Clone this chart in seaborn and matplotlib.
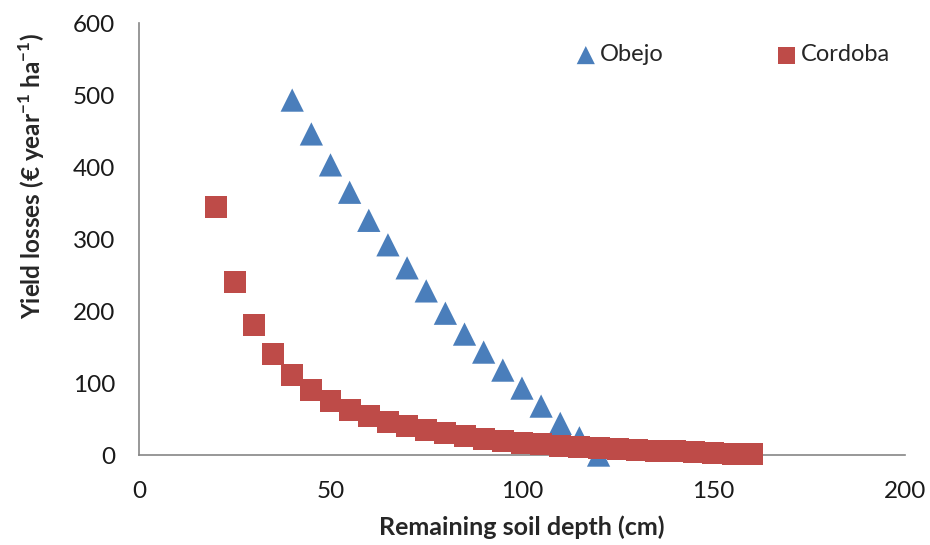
import numpy as np
import pandas as pd
import matplotlib
matplotlib.use("Agg")
import matplotlib.pyplot as plt
import seaborn as sns

# remaining soil depth (cm) and yield losses (EUR / year / ha)
obejo_depth = [40, 45, 50, 55, 60, 65, 70, 75, 80, 85, 90, 95, 100, 105, 110, 115, 120]
obejo_loss = [493, 446, 403, 365, 326, 292, 260, 228, 197, 168, 143, 118, 93, 68, 44, 24, 0]

cordoba_depth = [20, 25, 30, 35, 40, 45, 50, 55, 60, 65, 70, 75, 80, 85, 90, 95,
                 100, 105, 110, 115, 120, 125, 130, 135, 140, 145, 150, 155, 160]
cordoba_loss = [344, 241, 180, 140, 111, 91, 75, 62, 54, 46, 40, 35, 30, 26, 22, 20,
                17, 15, 13, 11, 10, 8, 7, 6, 5, 4, 3, 2, 1]

x_ticks = [0, 50, 100, 150, 200]
y_ticks = [0, 100, 200, 300, 400, 500, 600]

sns.set_style("white")
plt.rcParams['font.family'] = ['Lato', 'DejaVu Sans']
plt.rcParams['mathtext.fontset'] = 'custom'
plt.rcParams['mathtext.rm'] = 'Lato'
plt.rcParams['mathtext.bf'] = 'Lato:bold'

df_obejo = pd.DataFrame({'depth': obejo_depth, 'loss': obejo_loss})
df_cordoba = pd.DataFrame({'depth': cordoba_depth, 'loss': cordoba_loss})

fig = plt.figure(figsize=(9.3, 5.45), dpi=100)
ax = fig.add_axes([0.1495, 0.165, 0.8235, 0.7927])

blue = '#4a7ebb'
red = '#be4b48'

sns.scatterplot(data=df_obejo, x='depth', y='loss', marker='^', s=280,
                color=blue, edgecolor='none', label='Obejo', ax=ax, zorder=3,
                clip_on=False)
sns.scatterplot(data=df_cordoba, x='depth', y='loss', marker='s', s=250,
                color=red, edgecolor='none', label='Cordoba', ax=ax, zorder=4,
                clip_on=False)

ax.set_xlim(0, 200)
ax.set_ylim(0, 600)
ax.set_xticks(x_ticks)
ax.set_yticks(y_ticks)

for side in ['top', 'right']:
    ax.spines[side].set_visible(False)
for side in ['left', 'bottom']:
    ax.spines[side].set_color('#868686')
    ax.spines[side].set_linewidth(1.2)
    ax.spines[side].set_zorder(1)

ax.tick_params(axis='both', which='major', direction='out', length=6, width=1.2,
               color='#868686', labelsize=17.5, labelcolor='#1a1a1a')
ax.tick_params(axis='y', pad=11)
ax.tick_params(axis='x', pad=13)

ax.set_xlabel("Remaining soil depth (cm)", fontsize=18, fontweight='bold')
ax.set_ylabel(r"Yield losses (€ year$^{\mathbf{-1}}$ ha$^{\mathbf{-1}}$)", fontsize=17.5,
              fontweight='bold')
ax.xaxis.set_label_coords(0.5, -0.14)
ax.yaxis.set_label_coords(-0.12, 0.645)

ax.legend(loc='upper right', bbox_to_anchor=(1.008, 1.0), ncol=2, frameon=False,
          fontsize=17, markerscale=0.78, handlelength=0.8, handletextpad=0.2,
          columnspacing=4.8)

fig.savefig('out.png', dpi=100)
